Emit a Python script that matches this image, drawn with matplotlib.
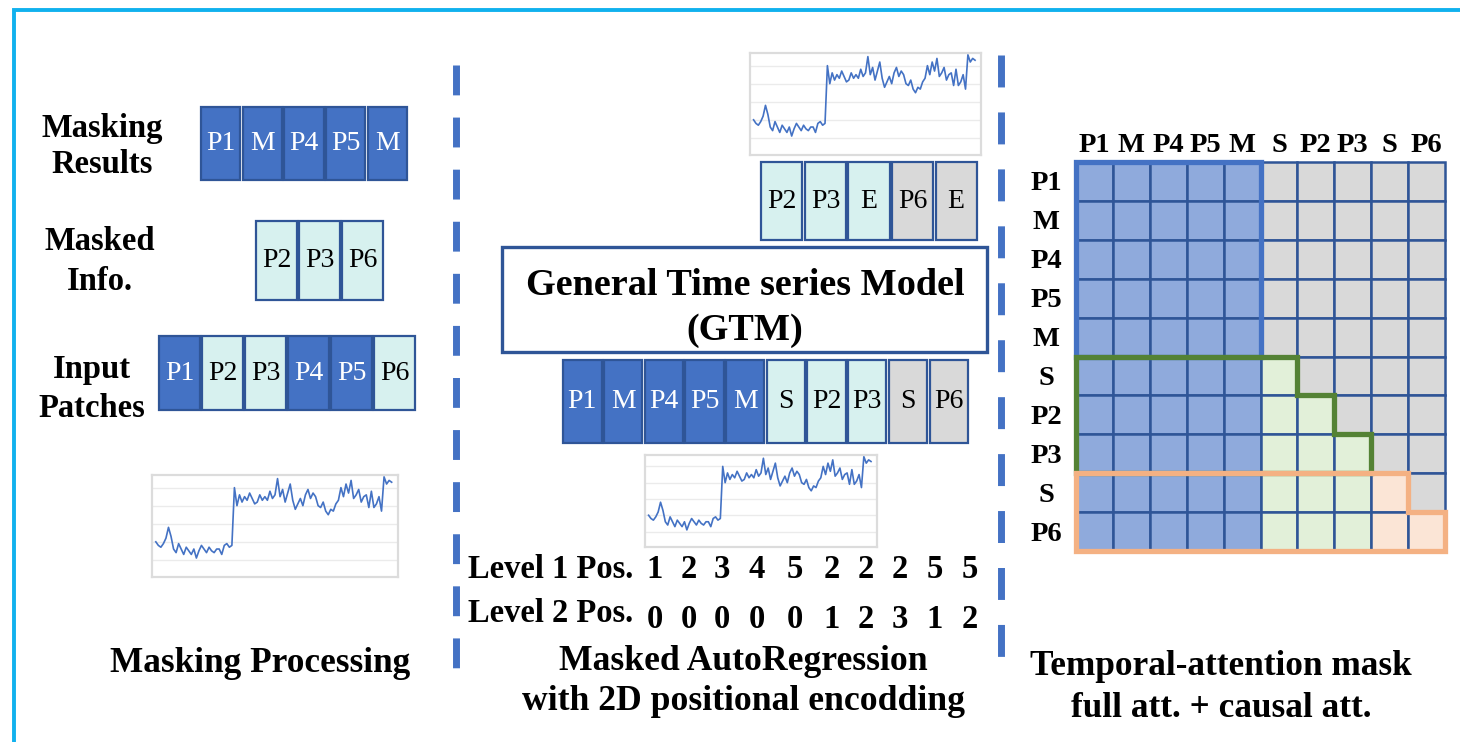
import matplotlib.pyplot as plt
from matplotlib.patches import Rectangle, Polygon


SERIF = ["Liberation Serif", "DejaVu Serif"]

DARK = "#4472c4"
LIGHT = "#d7f1ef"
GRAY = "#d9d9d9"
EDGE = "#2f5597"
FILL = {"d": DARK, "l": LIGHT, "g": GRAY}
CELL = {"b": "#8faadc", "g": "#e2f0d9", "o": "#fbe5d6", ".": "#d9d9d9"}

# token rows
MASKING_RESULTS = ["P1", "M", "P4", "P5", "M"]
MASKING_RESULTS_KIND = ["d", "d", "d", "d", "d"]
MASKED_INFO = ["P2", "P3", "P6"]
MASKED_INFO_KIND = ["l", "l", "l"]
INPUT_PATCHES = ["P1", "P2", "P3", "P4", "P5", "P6"]
INPUT_PATCHES_KIND = ["d", "l", "l", "d", "d", "l"]
TARGET_TOKENS = ["P2", "P3", "E", "P6", "E"]
TARGET_KIND = ["l", "l", "l", "g", "g"]
GTM_INPUT = ["P1", "M", "P4", "P5", "M", "S", "P2", "P3", "S", "P6"]
GTM_INPUT_KIND = ["d", "d", "d", "d", "d", "l", "l", "l", "g", "g"]

LEVEL1_POS = [1, 2, 3, 4, 5, 2, 2, 2, 5, 5]
LEVEL2_POS = [0, 0, 0, 0, 0, 1, 2, 3, 1, 2]

# temporal-attention mask (b = full att., g / o = causal att., . = masked)
ATTN_MASK = [
    "bbbbb.....",
    "bbbbb.....",
    "bbbbb.....",
    "bbbbb.....",
    "bbbbb.....",
    "bbbbbg....",
    "bbbbbgg...",
    "bbbbbggg..",
    "bbbbbgggo.",
    "bbbbbgggoo",
]

# little time series thumbnail
SERIES = [
    1.0, 0.8, 0.7, 0.9, 1.2, 1.8, 1.3, 0.6, 0.4, 0.9, 0.6, 0.3, 0.7, 0.5,
    0.3, 0.6, 0.1, 0.5, 0.8, 0.6, 0.4, 0.7, 0.5, 0.4, 0.6, 0.6, 0.3, 0.8,
    0.9, 0.7, 0.8, 4.0, 3.0, 3.6, 3.2, 3.5, 3.3, 3.7, 3.4, 3.1, 3.2, 3.6,
    3.3, 3.5, 3.3, 3.8, 3.4, 3.6, 4.5, 3.5, 3.9, 3.2, 3.7, 4.2, 3.3, 2.8,
    3.1, 3.4, 3.0, 3.6, 3.9, 3.4, 3.7, 3.5, 3.0, 2.9, 3.2, 2.7, 2.5, 2.8,
    2.7, 3.1, 3.3, 4.0, 3.5, 4.2, 3.7, 4.4, 3.4, 3.6, 3.9, 3.2, 3.5, 3.6,
    2.9, 3.8, 2.9, 3.1, 3.5, 2.7, 4.6, 4.2, 4.4, 4.3,
]

W, H = 1460, 742


def tokens(ax, labels, kinds, x0, x1, y0, y1, size=20):
    w = (x1 - x0) / len(labels)
    for i, (lab, kind) in enumerate(zip(labels, kinds)):
        x = x0 + i * w
        ax.add_patch(Rectangle((x + 1.2, y0), w - 2.4, y1 - y0, facecolor=FILL[kind],
                               edgecolor=EDGE, lw=1.6))
        ax.text(x + w / 2, (y0 + y1) / 2, lab, ha="center", va="center", fontsize=size,
                family=SERIF, color="white" if kind == "d" else "black")


def thumbnail(fig, x0, x1, y0, y1):
    sub = fig.add_axes([x0 / W, 1 - y1 / H, (x1 - x0) / W, (y1 - y0) / H])
    for g in range(5):
        sub.axhline(g, color="#ebebeb", lw=1)
    sub.plot(range(len(SERIES)), SERIES, color=DARK, lw=1.2)
    sub.set_xlim(-1.5, len(SERIES) + 1.5)
    sub.set_ylim(-0.95, 4.7)
    sub.set_xticks([])
    sub.set_yticks([])
    for sp in sub.spines.values():
        sp.set_color("#dcdcdc")
        sp.set_linewidth(1.6)


def label(ax, x, y, s, size=23.5, ha="center"):
    ax.text(x, y, s, ha=ha, va="baseline", fontsize=size, fontweight="bold", family=SERIF)


def main():
    fig = plt.figure(figsize=(W / 100, H / 100), dpi=100)
    ax = fig.add_axes([0, 0, 1, 1])
    ax.set_xlim(0, W)
    ax.set_ylim(H, 0)
    ax.axis("off")

    # frame
    ax.plot([14, 14, W], [H, 10, 10], color="#11b1ee", lw=2.8, solid_joinstyle="miter")

    # dashed separators
    ax.plot([456, 456], [65, 670], color=DARK, lw=5, dashes=(4.3, 3.2))
    ax.plot([1001, 1001], [55, 665], color=DARK, lw=5, dashes=(4.6, 3.6))

    # left panel: masking processing
    label(ax, 102, 137, "Masking")
    label(ax, 102, 173, "Results")
    tokens(ax, MASKING_RESULTS, MASKING_RESULTS_KIND, 200, 408, 107, 180)
    label(ax, 100, 250, "Masked")
    label(ax, 100, 290, "Info.")
    tokens(ax, MASKED_INFO, MASKED_INFO_KIND, 255, 384, 221, 300)
    label(ax, 92, 378, "Input")
    label(ax, 92, 417, "Patches")
    tokens(ax, INPUT_PATCHES, INPUT_PATCHES_KIND, 158, 416, 336, 410)
    thumbnail(fig, 152, 398, 475, 577)
    label(ax, 260, 672, "Masking Processing", size=25.4)

    # middle panel: masked autoregression
    thumbnail(fig, 750, 981, 53, 155)
    tokens(ax, TARGET_TOKENS, TARGET_KIND, 760, 978, 162, 240)
    ax.add_patch(Rectangle((502, 247), 485, 105, facecolor="white", edgecolor=EDGE, lw=2.4))
    label(ax, 745, 295, "General Time series Model", size=27.5)
    label(ax, 745, 340, "(GTM)", size=27.5)
    tokens(ax, GTM_INPUT, GTM_INPUT_KIND, 562, 969, 360, 443)
    thumbnail(fig, 645, 877, 455, 547)

    digit_x = [655, 689, 722, 757, 795, 832, 866, 900, 935, 970]
    label(ax, 468, 578, "Level 1 Pos.", ha="left")
    label(ax, 468, 622, "Level 2 Pos.", ha="left")
    for x, a, b in zip(digit_x, LEVEL1_POS, LEVEL2_POS):
        label(ax, x, 578, str(a))
        label(ax, x, 628, str(b))
    label(ax, 743, 670, "Masked AutoRegression", size=25.7)
    label(ax, 743, 710, "with 2D positional encodding", size=25.7)

    # right panel: temporal-attention mask
    gx0, gx1, gy0, gy1 = 1076, 1445, 162, 551
    n = len(GTM_INPUT)
    cw, ch = (gx1 - gx0) / n, (gy1 - gy0) / n
    for r, row in enumerate(ATTN_MASK):
        for c, kind in enumerate(row):
            ax.add_patch(Rectangle((gx0 + c * cw, gy0 + r * ch), cw, ch,
                                   facecolor=CELL[kind], edgecolor=EDGE, lw=1.8))
    for i, lab in enumerate(GTM_INPUT):
        label(ax, gx0 + (i + 0.5) * cw, 152, lab, size=20.5)
        label(ax, 1046, gy0 + (i + 0.5) * ch + 9, lab, size=20.5)

    def outline(cells, color):
        pts = [(gx0 + c * cw, gy0 + r * ch) for c, r in cells]
        ax.add_patch(Polygon(pts, closed=True, fill=False, edgecolor=color, lw=3.8,
                             joinstyle="miter"))

    outline([(0, 0), (5, 0), (5, 5), (0, 5)], DARK)
    outline([(0, 5), (6, 5), (6, 6), (7, 6), (7, 7), (8, 7), (8, 8), (0, 8)], "#548235")
    outline([(0, 8), (9, 8), (9, 9), (10, 9), (10, 10), (0, 10)], "#f4b183")

    label(ax, 1221, 675, "Temporal-attention mask", size=25.4)
    label(ax, 1221, 717, "full att. + causal att.", size=25.4)

    fig.savefig("out.png", dpi=100)
    plt.close(fig)


if __name__ == "__main__":
    main()
